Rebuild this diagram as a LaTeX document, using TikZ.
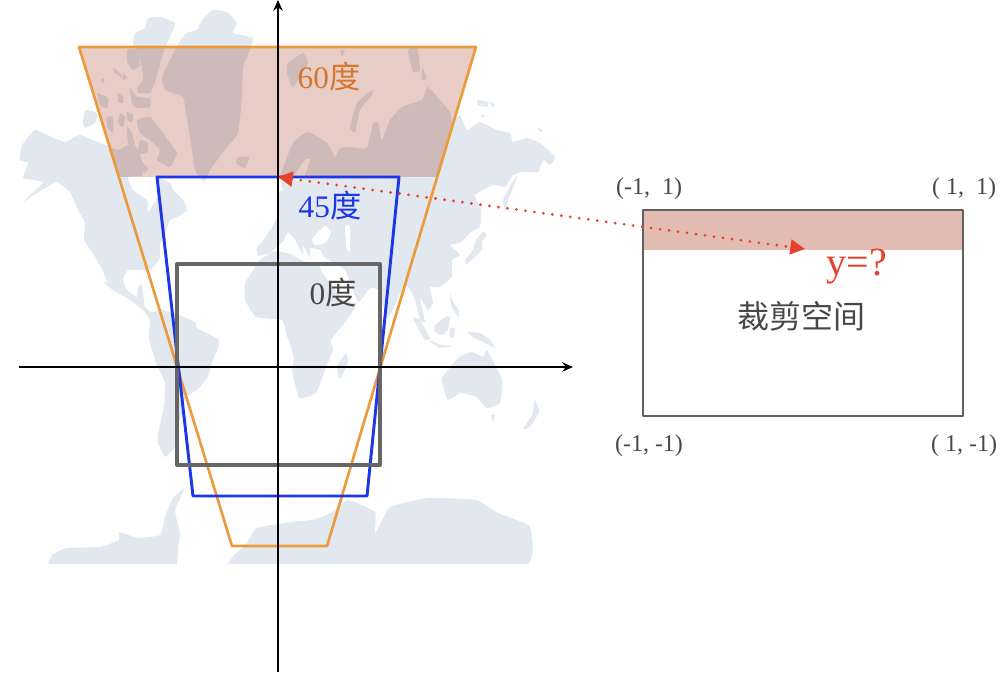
\documentclass[tikz,border=0pt]{standalone}
\usepackage{fontspec}
\setmainfont{Liberation Serif}
\newfontfamily\cjk{Noto Sans CJK SC}
\usetikzlibrary{arrows.meta}
\definecolor{landcol}{HTML}{E2E8EF}
\definecolor{bandcol}{HTML}{E8CDC6}
\definecolor{clipband}{HTML}{E2BCB2}
\definecolor{fov60}{HTML}{EC9A3C}
\definecolor{fov45}{HTML}{1C36E8}
\definecolor{fov0}{HTML}{666666}
\definecolor{redcol}{HTML}{E8402A}
\begin{document}
\begin{tikzpicture}[x=0.75pt,y=-0.75pt,line join=round,
	land/.style={fill=landcol},
	sea/.style={fill=white},
	axisline/.style={draw=black,line width=1.5pt,-{Stealth[length=8pt,width=7pt]}},
	lab/.style={font=\fontsize{18}{20}\selectfont,text=black!72},
	big/.style={font=\fontsize{23.5}{26}\selectfont}]
	\useasboundingbox (0,0) rectangle (1003,673);
	% map
	\begin{scope}
		\clip (0,0) rectangle (1003,563);
		\def\coast#1{\fill[land] plot[smooth cycle,tension=.25] coordinates {#1};}
		% america
		\coast{(22,145)(35,130)(47,135)(65,142)(80,135)(100,143)(110,147)(118,150)(133,143)(140,155)(143,165)(142,176)(128,177)(133,190)(147,200)(148,212)(157,198)(157,178)(170,183)(173,190)(183,200)(187,210)(178,217)(170,220)(165,233)(160,245)(160,258)(155,265)(150,270)(128,270)(123,280)(127,290)(137,297)(138,287)(142,285)(145,307)(152,312)(163,310)(178,315)(195,322)(197,328)(219,340)(217,350)(212,362)(208,377)(197,390)(186,397)(182,413)(177,430)(175,447)(165,457)(158,443)(158,433)(164,407)(165,383)(156,363)(149,338)(150,320)(143,310)(127,298)(113,290)(105,283)(97,260)(85,242)(84,237)(85,223)(77,208)(70,192)(57,182)(45,188)(23,202)(30,195)(43,183)(35,180)(23,178)(28,163)(20,160)}
		% africa
		\coast{(245,283)(252,272)(260,260)(275,251)(290,254)(305,262)(318,262)(322,272)(335,290)(345,302)(357,303)(349,317)(331,340)(333,350)(325,370)(316,393)(299,398)(292,370)(294,357)(286,333)(282,320)(256,317)(245,300)}
		\coast{(346,353)(348,362)(341,378)(338,377)(338,365)}
		% eurasia
		\coast{(280,177)(293,143)(308,132)(327,143)(335,157)(340,148)(350,147)(367,148)(373,123)(378,122)(382,140)(390,120)(402,107)(422,100)(427,87)(433,92)(450,112)(452,123)(460,115)(467,130)(480,122)(497,130)(510,133)(513,142)(527,138)(540,143)(555,157)(550,165)(543,160)(538,172)(523,172)(513,175)(505,187)(493,185)(475,195)(481,210)(480,227)(470,233)(460,243)(450,245)(460,255)(452,260)(452,277)(440,287)(430,287)(433,303)(428,310)(420,298)(425,322)(420,320)(415,300)(408,287)(403,287)(388,318)(378,290)(370,288)(358,302)(345,270)(325,258)(320,250)(310,248)(310,258)(303,245)(303,255)(295,240)(288,232)(283,242)(277,247)(270,253)(258,256)(257,248)(262,242)(272,227)(277,217)(278,193)(283,190)}
		\fill[sea] plot[smooth cycle,tension=.4] coordinates {(293,178)(305,160)(310,160)(302,180)};
		\fill[sea] plot[smooth cycle,tension=.4] coordinates {(312,240)(318,232)(326,226)(331,233)(325,243)(315,245)};
		\fill[sea] plot[smooth cycle,tension=.4] coordinates {(345,227)(350,227)(350,250)(347,250)};
		\fill[sea] plot[smooth cycle,tension=.4] coordinates {(97,265)(100,265)(107,282)(103,280)};
		% arctic
		\coast{(173,54)(180,41)(186,33)(197,30)(202,20)(213,10)(227,12)(237,23)(233,33)(253,38)(250,50)(243,67)(242,97)(238,133)(227,147)(212,167)(204,182)(195,170)(191,143)(186,113)(183,97)(165,90)(162,77)}
		\coast{(133,43)(135,33)(145,28)(148,18)(160,17)(175,23)(170,37)(165,48)(159,67)(155,82)(150,93)(138,93)(137,88)(143,80)(142,67)(138,53)}
		\coast{(127,50)(137,50)(140,65)(133,70)(127,62)}
		\coast{(137,120)(150,117)(163,133)(170,143)(177,153)(170,167)(157,160)(160,150)(150,140)(140,133)}
		\coast{(130,88)(137,97)(150,98)(150,107)(138,108)(132,103)}
		\coast{(118,93)(123,97)(123,103)(118,102)}
		\coast{(120,113)(125,117)(123,127)(118,123)}
		\coast{(127,112)(133,115)(132,122)(127,120)}
		\coast{(107,117)(113,117)(113,133)(107,127)}
		\coast{(97,93)(108,98)(107,108)(100,105)}
		\coast{(113,68)(120,73)(122,78)(115,73)}
		\coast{(123,72)(127,78)(123,80)}
		\coast{(102,78)(105,80)(103,83)(101,82)}
		\coast{(127,127)(132,133)(135,147)(128,143)}
		\coast{(140,140)(148,143)(147,153)(138,153)}
		\coast{(140,160)(148,168)(145,173)(140,167)}
		\coast{(85,110)(97,113)(95,123)(85,128)(83,122)}
		\coast{(238,157)(249,157)(245,168)(236,163)}
		\coast{(350,127)(357,103)(372,90)(372,95)(360,110)(355,133)}
		\coast{(288,63)(303,53)(308,63)(293,87)(287,73)}
		\coast{(340,50)(345,50)(342,57)}
		\coast{(408,50)(417,47)(420,70)(413,72)}
		\coast{(422,67)(427,78)(422,80)}
		\coast{(477,100)(488,102)(487,107)(478,105)}
		\coast{(490,102)(495,105)(492,107)}
		\coast{(482,114)(485,117)(481,117)}
		\coast{(538,128)(543,130)(540,132)}
		% islands of the east
		\coast{(503,200)(512,183)(517,175)(515,183)(508,200)(506,212)}
		\coast{(483,232)(487,235)(482,242)(482,250)(467,264)(465,260)(473,250)(476,240)}
		\coast{(413,318)(420,320)(430,338)(425,340)(418,328)}
		\coast{(428,340)(442,345)(452,346)(440,348)}
		\coast{(435,325)(447,316)(450,318)(448,330)(442,335)(435,332)}
		\coast{(450,328)(455,328)(453,338)(450,337)}
		\coast{(450,293)(453,302)(459,310)(459,317)(455,313)(451,305)}
		\coast{(468,332)(480,333)(490,340)(495,348)(483,342)(472,337)}
		\coast{(442,378)(459,357)(472,352)(483,357)(487,350)(502,380)(500,403)(487,408)(476,397)(461,393)(448,400)(444,390)}
		\coast{(491,415)(495,415)(493,422)}
		\coast{(535,400)(539,412)(530,427)(523,429)(532,415)}
		% antarctica
		\coast{(52,555)(67,548)(100,547)(119,540)(119,532)(138,538)(160,535)(165,517)(173,498)(185,488)(175,510)(180,533)(178,547)(171,570)(52,570)}
		\coast{(234,570)(247,543)(257,528)(290,522)(312,520)(331,513)(348,500)(375,512)(375,533)(381,523)(390,507)(428,498)(476,500)(498,513)(530,527)(519,570)}
	\end{scope}
	% projected top part
	\begin{scope}[blend mode=multiply]
		\fill[bandcol] (79,47) -- (476,47) -- (437.2,177) -- (117.8,177) -- cycle;
	\end{scope}
	% frustums
	\draw[fov60,line width=2pt] (79,47) -- (476,47) -- (327,546) -- (232,546) -- cycle;
	\draw[fov45,line width=2.2pt] (157,177) -- (399,177) -- (367,496) -- (193,496) -- cycle;
	\draw[fov0,line width=2.5pt] (177,264) rectangle (380,465);
	% axes
	\draw[axisline] (19,367) -- (573,367);
	\draw[axisline] (278,672) -- (278,0);
	\node[big,text=fov60!85!red!90!black] (t60) at (329,77) {60{\cjk 度}};
	\node[big,text=fov45] (t45) at (330,206) {45{\cjk 度}};
	\node[big,text=black!72] (t0) at (333,293) {0{\cjk 度}};
	% clip space
	\fill[clipband] (643,210) rectangle (963,250);
	\draw[black!62,line width=1.7pt] (643,210) rectangle (963,416);
	\node[font=\fontsize{24}{28}\selectfont\cjk,text=black!72] (tclip) at (801,316) {裁剪空间};
	\node[lab] (lt) at (649,189) {(-1,\ \ 1)};
	\node[lab] (rt) at (964,189) {( 1,\ \ 1)};
	\node[lab] (lb) at (649,446) {(-1, -1)};
	\node[lab] (rb) at (964,446) {( 1, -1)};
	\node[font=\fontsize{30}{32}\selectfont,text=redcol] (ty) at (857,267) {y=?};
	% dotted link
	\coordinate (apex) at (278,177);
	\coordinate (hit) at (805,249);
	\draw[redcol,line width=2.3pt,line cap=round,dash pattern=on 0pt off 6.8pt,{Triangle[length=11pt,width=11pt]}-{Triangle[length=11pt,width=11pt]}] (apex) -- (hit);
\end{tikzpicture}
\end{document}
